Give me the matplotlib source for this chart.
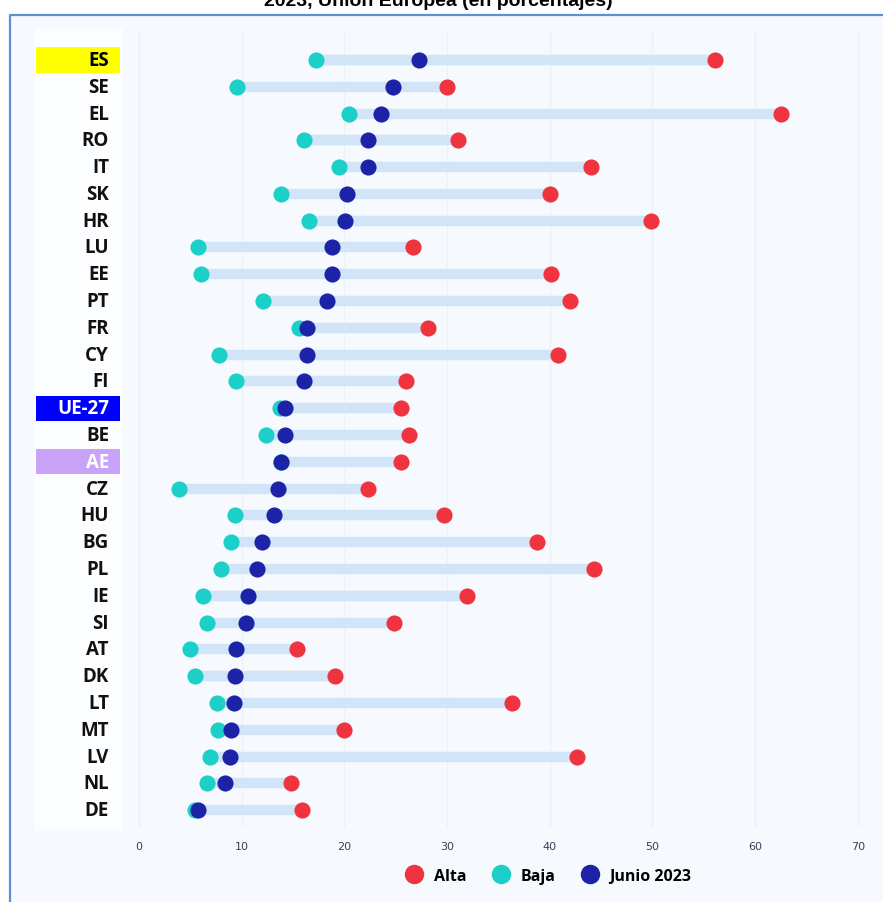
import matplotlib
matplotlib.use("Agg")
import matplotlib.pyplot as plt
import matplotlib.transforms as mtransforms
from matplotlib.lines import Line2D
from matplotlib.patches import Rectangle

# Data (percent)
countries = ["ES", "SE", "EL", "RO", "IT", "SK", "HR", "LU", "EE", "PT", "FR", "CY", "FI",
             "UE-27", "BE", "AE", "CZ", "HU", "BG", "PL", "IE", "SI", "AT", "DK", "LT",
             "MT", "LV", "NL", "DE"]
baja = [17.2, 9.6, 20.5, 16.1, 19.5, 13.8, 16.6, 5.8, 6.0, 12.1, 15.6, 7.8, 9.5,
        13.7, 12.4, 13.8, 3.9, 9.4, 9.0, 8.0, 6.2, 6.6, 5.0, 5.5, 7.6,
        7.7, 6.9, 6.6, 5.5]
junio = [27.3, 24.7, 23.6, 22.3, 22.3, 20.3, 20.1, 18.8, 18.8, 18.3, 16.4, 16.4, 16.1,
         14.2, 14.2, 13.8, 13.5, 13.2, 12.0, 11.5, 10.6, 10.4, 9.5, 9.4, 9.3,
         9.0, 8.9, 8.4, 5.8]
alta = [56.1, 30.0, 62.5, 31.1, 44.0, 40.0, 49.9, 26.7, 40.1, 42.0, 28.2, 40.8, 26.0,
        25.5, 26.3, 25.5, 22.3, 29.7, 38.8, 44.3, 32.0, 24.8, 15.4, 19.1, 36.3,
        20.0, 42.7, 14.8, 15.9]
highlight = {"ES": ("#ffff00", "black"), "UE-27": ("#0000ff", "white"), "AE": ("#c9a3f7", "white")}

RED, CYAN, NAVY, BAR = "#f0343f", "#1ccfc9", "#1c23a6", "#d2e5f8"
BG = "#f6f9fd"

W, H = 883, 903
fig = plt.figure(figsize=(W / 100, H / 100), dpi=100)
fig.patch.set_facecolor("white")

# panel background, faint white label column and border
fig.add_artist(Rectangle((10 / W, 0), 1, 1 - 16 / H, transform=fig.transFigure,
                         facecolor=BG, edgecolor="none", zorder=0))
fig.add_artist(Rectangle((35 / W, 1 - 832 / H), 88 / W, 802 / H, transform=fig.transFigure,
                         facecolor="#fcfdff", edgecolor="none", zorder=0))
fig.add_artist(Line2D([10 / W, 10 / W, 1], [0, 1 - 16 / H, 1 - 16 / H],
                      transform=fig.transFigure, color="#5f8fd2", lw=1.6))

# title, cut at the top edge as in the reference
fig.text(438 / W, 1 - 6 / H, "2023, Unión Europea (en porcentajes)", ha="center", va="baseline",
         fontsize=14, fontweight="bold", family="Liberation Sans")

ax = fig.add_axes([123 / W, 1 - 828 / H, (870 - 123) / W, (828 - 32) / H])
ax.set_facecolor(BG)
for s in ax.spines.values():
    s.set_visible(False)

y = list(range(len(countries)))
lo = [min(a, b, c) for a, b, c in zip(baja, junio, alta)]
hi = [max(a, b, c) for a, b, c in zip(baja, junio, alta)]
ax.hlines(y, lo, hi, color=BAR, lw=7.5, zorder=2)
ax.scatter(baja, y, s=135, color=CYAN, zorder=3, linewidths=0)
ax.scatter(junio, y, s=135, color=NAVY, zorder=4, linewidths=0)
ax.scatter(alta, y, s=135, color=RED, zorder=5, linewidths=0)

ax.set_xlim(-1.55, 71.2)
ax.set_ylim(28.63, -1.08)
ax.set_xticks(range(0, 71, 10))
ax.grid(axis="x", color="#edf1f7", lw=1, zorder=0)
ax.set_axisbelow(True)
ax.tick_params(axis="x", length=0, pad=10, labelsize=8, labelcolor="#3a3f55")
ax.set_yticks([])

# country labels with highlight boxes
blend = mtransforms.blended_transform_factory(fig.transFigure, ax.transData)
for i, c in enumerate(countries):
    color = "#111111"
    if c in highlight:
        fc, color = highlight[c]
        ax.add_patch(Rectangle((36 / W, i - 0.47), 84 / W, 0.94, transform=blend,
                               facecolor=fc, edgecolor="none", clip_on=False, zorder=1))
    ax.text(109 / W, i, c, transform=blend, ha="right", va="center", fontsize=13.5,
            fontweight="bold", family="Open Sans", color=color, zorder=2)

handles = [Line2D([], [], marker="o", ls="none", ms=13, color=col, label=lab)
           for col, lab in [(RED, "Alta"), (CYAN, "Baja"), (NAVY, "Junio 2023")]]
fig.legend(handles=handles, loc="center", bbox_to_anchor=(545 / W, 1 - 877 / H), ncol=3,
           frameon=False, handletextpad=0.2, columnspacing=1.2,
           prop={"family": "Open Sans", "weight": "bold", "size": 11.5})

fig.savefig("out.png", dpi=100)
